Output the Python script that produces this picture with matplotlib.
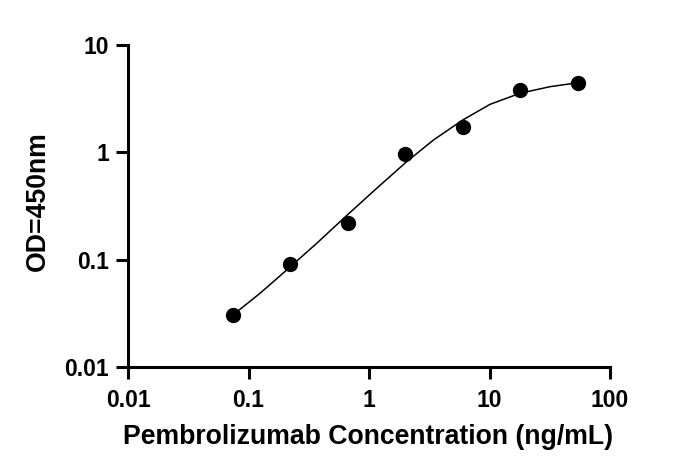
import matplotlib
matplotlib.use("Agg")
import matplotlib.pyplot as plt
from matplotlib.ticker import FixedLocator, FixedFormatter, NullLocator

# measured points (3-fold dilution series)
conc = [0.074, 0.222, 0.667, 2.0, 6.0, 18.0, 54.0]
od = [0.0305, 0.0912, 0.221, 0.975, 1.71, 3.81, 4.45]

# fitted curve
curve_x = [0.074, 0.0823, 0.1246, 0.2075, 0.368, 0.661, 1.158, 2.055, 3.42, 5.99, 10.1, 17.9, 31.8, 54.0]
curve_y = [0.0302, 0.0335, 0.0486, 0.0801, 0.142, 0.261, 0.462, 0.819, 1.30, 2.00, 2.80, 3.55, 4.09, 4.45]

xticks = [0.01, 0.1, 1, 10, 100]
xtick_labels = ['0.01', '0.1', '1', '10', '100']
yticks = [0.01, 0.1, 1, 10]
ytick_labels = ['0.01', '0.1', '1', '10']

plt.rcParams['font.family'] = ['Liberation Sans', 'DejaVu Sans']
plt.rcParams['font.weight'] = 'bold'

fig = plt.figure(figsize=(6.85, 4.75), dpi=100)
ax = fig.add_axes([128/685, 1 - 367/475, 482/685, 322/475])

ax.plot(curve_x, curve_y, '-', color='black', linewidth=1.1, zorder=2,
        solid_joinstyle='round')
ax.plot(conc, od, 'o', color='black', markersize=10, zorder=3, clip_on=False)

ax.set_xscale('log')
ax.set_yscale('log')
ax.set_xlim(0.01, 100)
ax.set_ylim(0.01, 10)

ax.xaxis.set_major_locator(FixedLocator(xticks))
ax.xaxis.set_major_formatter(FixedFormatter(xtick_labels))
ax.xaxis.set_minor_locator(NullLocator())
ax.yaxis.set_major_locator(FixedLocator(yticks))
ax.yaxis.set_major_formatter(FixedFormatter(ytick_labels))
ax.yaxis.set_minor_locator(NullLocator())

for s in ['top', 'right']:
    ax.spines[s].set_visible(False)
for s in ['left', 'bottom']:
    ax.spines[s].set_linewidth(2.2)

ax.tick_params(axis='both', length=8.5, width=2.2, labelsize=16.5)
ax.tick_params(axis='x', pad=7.5)
ax.tick_params(axis='y', pad=5)

ax.set_xlabel('Pembrolizumab Concentration (ng/mL)', fontsize=19.2, fontweight='bold')
ax.set_ylabel('OD=450nm', fontsize=19.2, fontweight='bold')
ax.xaxis.set_label_coords(0.498, -0.178)
ax.yaxis.set_label_coords(-0.16, 0.514)

fig.savefig('out.png', dpi=100)
